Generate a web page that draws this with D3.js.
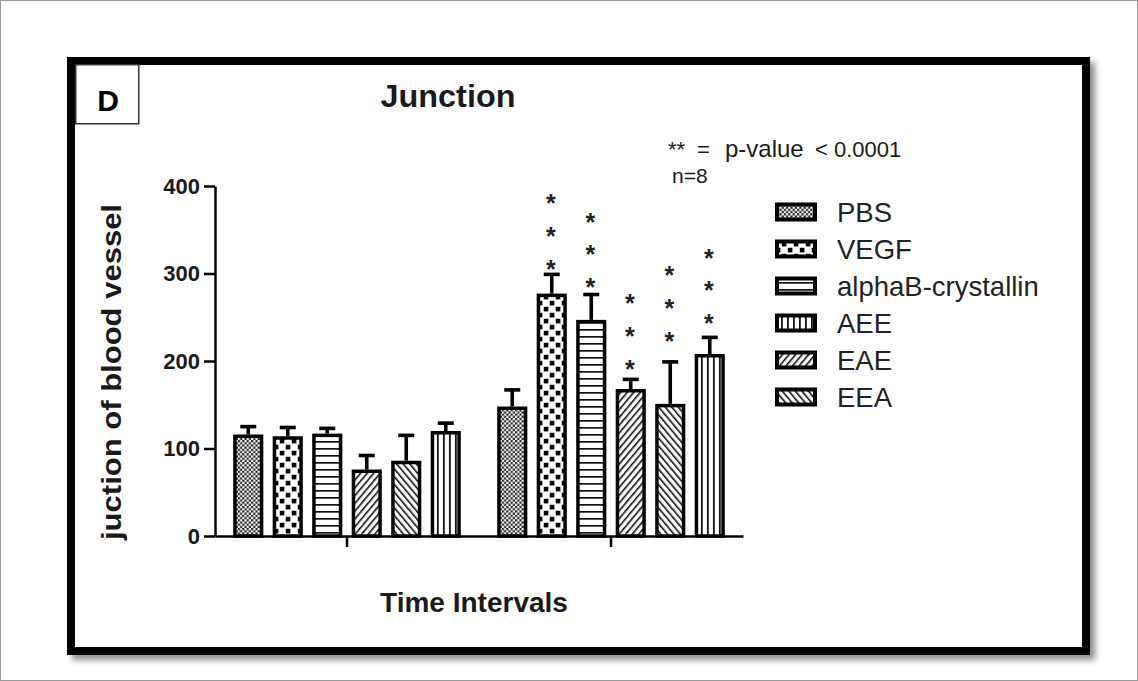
<!DOCTYPE html>
<html>
<head>
<meta charset="utf-8">
<script src="https://cdn.jsdelivr.net/npm/d3@7"></script>
<style>
  body { margin: 0; background: #fff; }
  svg { display: block; }
  text { font-family: "Liberation Sans", Arial, Helvetica, sans-serif; fill: #1a1a1a; }
</style>
</head>
<body>
<svg id="chart" width="1138" height="681"></svg>
<script>
// Two time points, six treatments per time point (bar order left to right)
const timeGroups = ["Interval 1", "Interval 2"];
const treatments = ["PBS", "VEGF", "alphaB-crystallin", "EAE", "EEA", "AEE"];
const legendOrder = ["PBS", "VEGF", "alphaB-crystallin", "AEE", "EAE", "EEA"];

// Junction counts (mean and SEM)
const meanInterval1 = [114, 112, 115, 74, 84, 118];
const semInterval1  = [11, 12, 8, 18, 31, 11];
const meanInterval2 = [146, 275, 245, 166, 149, 206];
const semInterval2  = [21, 24, 31, 13, 50, 21];

// Significance stars for the second interval: count and height of the lowest star
const starsInterval2    = [0, 3, 3, 3, 3, 3];
const starBaseInterval2 = [0, 311, 290, 197, 229, 249];
const starStep = 37.5;

const yTicks = [0, 100, 200, 300, 400];

const rows = [];
treatments.forEach((t, i) => {
  rows.push({ group: timeGroups[0], treatment: t, mean: meanInterval1[i], sem: semInterval1[i], stars: 0, starBase: 0 });
  rows.push({ group: timeGroups[1], treatment: t, mean: meanInterval2[i], sem: semInterval2[i], stars: starsInterval2[i], starBase: starBaseInterval2[i] });
});

const svg = d3.select("#chart");
const defs = svg.append("defs");

// ---- fill patterns ----
const pDots = defs.append("pattern").attr("id", "pat-PBS").attr("patternUnits", "userSpaceOnUse")
  .attr("width", 4.4).attr("height", 4.4);
pDots.append("rect").attr("width", 4.4).attr("height", 4.4).attr("fill", "#fff");
pDots.append("rect").attr("x", 0).attr("y", 0).attr("width", 2.2).attr("height", 2.2).attr("fill", "#222");
pDots.append("rect").attr("x", 2.2).attr("y", 2.2).attr("width", 2.2).attr("height", 2.2).attr("fill", "#222");

const pChk = defs.append("pattern").attr("id", "pat-VEGF").attr("patternUnits", "userSpaceOnUse")
  .attr("width", 12).attr("height", 12);
pChk.append("rect").attr("width", 12).attr("height", 12).attr("fill", "#fff");
pChk.append("rect").attr("x", 0.8).attr("y", 0.8).attr("width", 4.6).attr("height", 4.6).attr("fill", "#000");
pChk.append("rect").attr("x", 6.8).attr("y", 6.8).attr("width", 4.6).attr("height", 4.6).attr("fill", "#000");

const pH = defs.append("pattern").attr("id", "pat-alphaB-crystallin").attr("patternUnits", "userSpaceOnUse")
  .attr("width", 10).attr("height", 7);
pH.append("rect").attr("width", 10).attr("height", 7).attr("fill", "#fff");
pH.append("rect").attr("y", 0).attr("width", 10).attr("height", 1.7).attr("fill", "#111");

const pV = defs.append("pattern").attr("id", "pat-AEE").attr("patternUnits", "userSpaceOnUse")
  .attr("width", 6).attr("height", 10);
pV.append("rect").attr("width", 6).attr("height", 10).attr("fill", "#fff");
pV.append("rect").attr("x", 0).attr("width", 1.8).attr("height", 10).attr("fill", "#111");

function diagPattern(id, angle) {
  const p = defs.append("pattern").attr("id", id).attr("patternUnits", "userSpaceOnUse")
    .attr("width", 5).attr("height", 10).attr("patternTransform", `rotate(${angle})`);
  p.append("rect").attr("width", 5).attr("height", 10).attr("fill", "#fff");
  p.append("rect").attr("x", 0).attr("width", 1.6).attr("height", 10).attr("fill", "#111");
}
diagPattern("pat-EAE", 40);
diagPattern("pat-EEA", -40);

// drop shadow of the panel frame
const shadow = defs.append("filter").attr("id", "frameShadow")
  .attr("x", "-5%").attr("y", "-5%").attr("width", "115%").attr("height", "115%");
shadow.append("feDropShadow").attr("dx", 5).attr("dy", 5).attr("stdDeviation", 3)
  .attr("flood-color", "#000").attr("flood-opacity", 0.45);

// ---- page and panel frame ----
svg.append("rect").attr("x", 0.5).attr("y", 0.5).attr("width", 1137).attr("height", 680)
  .attr("fill", "#fff").attr("stroke", "#9a9a9a").attr("stroke-width", 1);

svg.append("rect").attr("x", 71).attr("y", 61).attr("width", 1015).attr("height", 590)
  .attr("fill", "#fff").attr("stroke", "#000").attr("stroke-width", 8)
  .attr("filter", "url(#frameShadow)");

svg.append("rect").attr("x", 75.75).attr("y", 64.75).attr("width", 63).attr("height", 59)
  .attr("fill", "#fff").attr("stroke", "#333").attr("stroke-width", 1.5);
svg.append("text").attr("x", 108).attr("y", 111).attr("text-anchor", "middle")
  .style("font-size", "30px").style("font-weight", "bold").style("fill", "#000").text("D");

// ---- scales ----
const y = d3.scaleLinear().domain([0, 400]).range([536, 186]);
const x0 = d3.scaleBand().domain(timeGroups).range([215, 743]).padding(0);
const half = x0.bandwidth() / 2;
const x1 = d3.scaleBand().domain(treatments).range([half - 118.5, half + 118.5])
  .paddingInner(0.25).paddingOuter(0.125);

// ---- bars ----
const sw = 3.5;
const bars = svg.append("g").selectAll("g").data(rows).join("g")
  .attr("transform", d => `translate(${x0(d.group) + x1(d.treatment)},0)`);

bars.append("rect")
  .attr("x", sw / 2 - 0.25)
  .attr("y", d => y(d.mean))
  .attr("width", x1.bandwidth() - sw + 0.5)
  .attr("height", d => y(0) - y(d.mean))
  .attr("fill", d => `url(#pat-${d.treatment})`)
  .attr("stroke", "#000").attr("stroke-width", sw);

// error bars (upper half only)
const cx = x1.bandwidth() / 2;
bars.append("line")
  .attr("x1", cx).attr("x2", cx)
  .attr("y1", d => y(d.mean) - sw / 2).attr("y2", d => y(d.mean + d.sem))
  .attr("stroke", "#000").attr("stroke-width", 3.6);
bars.append("line")
  .attr("x1", cx - 8).attr("x2", cx + 8)
  .attr("y1", d => y(d.mean + d.sem)).attr("y2", d => y(d.mean + d.sem))
  .attr("stroke", "#000").attr("stroke-width", 3.6);

// significance stars
bars.each(function (d) {
  const g = d3.select(this);
  for (let k = 0; k < d.stars; k++) {
    g.append("text")
      .attr("x", cx - 1).attr("y", y(d.starBase + k * starStep) + 14)
      .attr("text-anchor", "middle")
      .style("font-size", "25px").style("font-weight", "bold").style("fill", "#222")
      .text("*");
  }
});

// ---- axes ----
const yAxis = svg.append("g").attr("transform", "translate(215,0)")
  .call(d3.axisLeft(y).tickValues(yTicks).tickSize(11).tickSizeOuter(0).tickPadding(4));
yAxis.select(".domain").attr("stroke", "#000").attr("stroke-width", 2.5);
yAxis.selectAll(".tick line").attr("stroke", "#000").attr("stroke-width", 2.5);
yAxis.selectAll(".tick text").style("font-size", "22px").style("font-weight", "bold")
  .style("fill", "#1a1a1a").attr("font-family", null);

const xAxis = svg.append("g").attr("transform", `translate(0,${y(0)})`)
  .call(d3.axisBottom(x0).tickSizeInner(11).tickSizeOuter(0).tickFormat(""));
xAxis.select(".domain").attr("stroke", "#000").attr("stroke-width", 2.5);
xAxis.selectAll(".tick line").attr("stroke", "#000").attr("stroke-width", 2.5);

// ---- titles ----
svg.append("text").attr("x", 448).attr("y", 107).attr("text-anchor", "middle")
  .style("font-size", "31px").style("font-weight", "bold")
  .attr("textLength", 135).attr("lengthAdjust", "spacingAndGlyphs")
  .text("Junction");

svg.append("text").attr("x", 474).attr("y", 612).attr("text-anchor", "middle")
  .style("font-size", "28px").style("font-weight", "bold")
  .text("Time Intervals");

svg.append("text")
  .attr("transform", "translate(121,372) rotate(-90)")
  .attr("text-anchor", "middle")
  .style("font-size", "28px").style("font-weight", "bold")
  .attr("textLength", 336).attr("lengthAdjust", "spacingAndGlyphs")
  .text("juction of blood vessel");

// ---- significance note ----
const note = svg.append("text").attr("y", 157);
note.append("tspan").attr("x", 668).style("font-size", "22px").text("**");
note.append("tspan").attr("x", 697).style("font-size", "22px").text("=");
note.append("tspan").attr("x", 725).style("font-size", "24px").text("p-value");
note.append("tspan").attr("x", 815).style("font-size", "22px").text("< 0.0001");
svg.append("text").attr("x", 672).attr("y", 183).style("font-size", "21px").text("n=8");

// ---- legend ----
const legend = svg.append("g").selectAll("g").data(legendOrder).join("g")
  .attr("transform", (d, i) => `translate(775,${222 + i * 37})`);
legend.append("rect")
  .attr("x", 2).attr("y", -17.5).attr("width", 38).attr("height", 15)
  .attr("fill", d => `url(#pat-${d})`).attr("stroke", "#000").attr("stroke-width", 4);
legend.append("text").attr("x", 62).attr("y", 0)
  .style("font-size", "27.5px").style("fill", "#222")
  .text(d => d);
</script>
</body>
</html>
